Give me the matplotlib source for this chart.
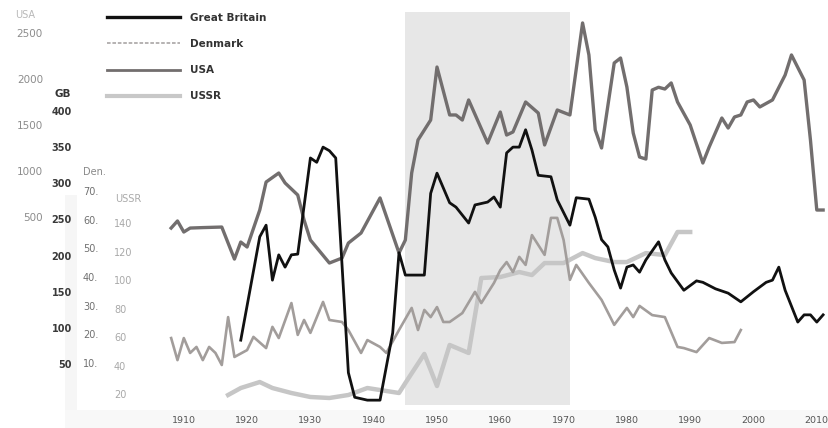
import matplotlib
matplotlib.use('Agg')
import matplotlib.pyplot as plt
from matplotlib.lines import Line2D
from matplotlib.patches import Rectangle

plt.rcParams['font.family'] = ['DejaVu Sans']

# ---------------- data ----------------
usa_years = [1908, 1909, 1910, 1911, 1913, 1916, 1918, 1919, 1920, 1922, 1923, 1925, 1926, 1928,
             1929, 1930, 1933, 1935, 1936, 1938, 1941, 1944, 1945, 1946, 1947, 1949, 1950, 1952,
             1953, 1954, 1955, 1958, 1960, 1961, 1962, 1964, 1966, 1967, 1969, 1971, 1973, 1974,
             1975, 1976, 1978, 1979, 1980, 1981, 1982, 1983, 1984, 1985, 1986, 1987, 1988, 1990,
             1992, 1993, 1995, 1996, 1997, 1998, 1999, 2000, 2001, 2003, 2005, 2006, 2008, 2009,
             2010, 2011]
usa_vals = [380, 457, 337, 380, 385, 391, 43, 228, 174, 576, 880, 978, 870, 739,
            467, 250, 0, 54, 217, 326, 707, 109, 250, 978, 1337, 1554, 2130, 1609,
            1609, 1554, 1772, 1304, 1641, 1391, 1424, 1750, 1630, 1283, 1663, 1609, 2609, 2261,
            1446, 1250, 2174, 2228, 1913, 1413, 1152, 1130, 1880, 1910, 1891, 1957, 1750, 1500,
            1087, 1261, 1576, 1467, 1587, 1609, 1750, 1772, 1696, 1772, 2043, 2261, 1989, 1337,
            576, 576]

gb_years = [1919, 1922, 1923, 1924, 1925, 1926, 1927, 1928, 1930, 1931, 1932, 1933, 1934, 1936,
            1937, 1939, 1941, 1943, 1944, 1945, 1948, 1949, 1950, 1952, 1953, 1955, 1956, 1958,
            1959, 1960, 1961, 1962, 1963, 1964, 1965, 1966, 1968, 1969, 1971, 1972, 1974, 1975,
            1976, 1977, 1978, 1979, 1980, 1981, 1982, 1983, 1985, 1986, 1987, 1989, 1991, 1992,
            1994, 1996, 1998, 2000, 2002, 2003, 2004, 2005, 2007, 2008, 2009, 2010, 2011]
gb_vals = [83, 226, 242, 166, 201, 184, 201, 202, 335, 329, 350, 345, 335, 38,
           4, 0, 0, 93, 204, 173, 173, 286, 314, 273, 267, 245, 270, 274,
           281, 267, 342, 350, 350, 374, 346, 311, 309, 277, 242, 280, 278, 253,
           222, 212, 180, 155, 184, 187, 177, 194, 219, 194, 176, 152, 165, 163,
           154, 148, 136, 150, 163, 166, 184, 152, 108, 118, 118, 108, 118]

den_years = [1908, 1909, 1910, 1911, 1912, 1913, 1914, 1915, 1916, 1917, 1918, 1920, 1921, 1923,
             1924, 1925, 1927, 1928, 1929, 1930, 1932, 1933, 1935, 1936, 1938, 1939, 1941, 1942,
             1944, 1946, 1947, 1948, 1949, 1950, 1951, 1952, 1954, 1956, 1957, 1959, 1960, 1961,
             1962, 1963, 1964, 1965, 1967, 1968, 1969, 1970, 1971, 1972, 1974, 1976, 1978, 1980,
             1981, 1982, 1984, 1986, 1988, 1989, 1991, 1993, 1995, 1997, 1998]
den_vals = [18.7, 11.0, 18.7, 13.5, 15.6, 11.0, 15.6, 13.5, 9.3, 26.0, 12.1, 14.5, 19.1, 15.2,
            22.6, 18.7, 30.9, 19.8, 25.0, 20.5, 31.3, 25.0, 24.3, 21.5, 13.5, 18.0, 15.6, 13.5,
            21.5, 29.2, 21.5, 28.5, 26.0, 29.5, 24.3, 24.3, 27.4, 34.8, 30.9, 37.9, 42.4, 45.2,
            41.7, 47.0, 44.2, 54.6, 47.7, 60.6, 60.6, 52.9, 39.0, 44.2, 37.9, 32.0, 23.3, 29.2,
            26.0, 29.9, 26.7, 26.0, 15.6, 15.2, 13.8, 18.7, 17.0, 17.3, 21.5]

ussr_years = [1917, 1919, 1922, 1924, 1927, 1930, 1933, 1936, 1939, 1941, 1944, 1945, 1948, 1950,
              1952, 1955, 1957, 1960, 1963, 1965, 1967, 1970, 1973, 1975, 1978, 1980, 1983, 1986,
              1988, 1990]
ussr_vals = [19.3, 24.2, 28.4, 24.2, 20.7, 17.9, 17.2, 19.3, 24.2, 22.8, 20.7, 27.7, 48.1, 25.6,
             54.4, 48.8, 101.4, 102.1, 105.6, 103.5, 111.9, 111.9, 118.9, 115.4, 112.6, 112.6, 118.9, 117.5,
             133.7, 133.7]

x_ticks = [1910, 1920, 1930, 1940, 1950, 1960, 1970, 1980, 1990, 2000, 2010]
shade_span = (1945, 1971)

usa_ticks = [500, 1000, 1500, 2000, 2500]
gb_ticks = [50, 100, 150, 200, 250, 300, 350, 400]
den_ticks = [10, 20, 30, 40, 50, 60, 70]
den_labels = ['10.', '20.', '30.', '40.', '50.', '60.', '70.']
ussr_ticks = [20, 40, 60, 80, 100, 120, 140]

legend_labels = ['Great Britain', 'Denmark', 'USA', 'USSR']

# ---------------- figure ----------------
W, H = 829, 428
fig = plt.figure(figsize=(W / 100, H / 100), dpi=100)

def fx(px):
    return px / W

def fy(py):
    return 1 - py / H

# faint background strips (behind everything)
fig.patches.append(Rectangle((fx(65), 0), fx(12), (428 - 195) / H, transform=fig.transFigure,
                             color='#f6f6f6', lw=0, zorder=-10))
fig.patches.append(Rectangle((fx(65), 0), fx(829 - 65), 18 / H, transform=fig.transFigure,
                             color='#f8f8f8', lw=0, zorder=-10))

L, R, T, B = 140, 829, 12, 405
rect = [fx(L), fy(B), (R - L) / W, (B - T) / H]

base = fig.add_axes(rect)
base.patch.set_visible(False)
base.set_xlim(1903.08, 2011.93)
base.set_ylim(0, 1)
base.axvspan(*shade_span, color='#e7e7e7', lw=0)
base.set_yticks([])
for s in base.spines.values():
    s.set_visible(False)
base.tick_params(axis='x', length=0, pad=8.0, labelsize=6.8, labelcolor='#555555')
base.set_xticks(x_ticks)


def make_axis(ylim, ticks, labels, offset_px, ha, color, weight, size=7):
    ax = fig.add_axes(rect, sharex=base)
    ax.patch.set_visible(False)
    ax.set_ylim(*ylim)
    ax.yaxis.tick_left()
    for s in ax.spines.values():
        s.set_color('none')
    ax.spines['left'].set_position(('outward', offset_px * 72 / 100))
    ax.tick_params(axis='y', length=0, pad=0)
    ax.tick_params(axis='x', bottom=False, labelbottom=False)
    ax.set_yticks(ticks, labels, ha=ha, color=color, fontweight=weight, fontsize=size)
    return ax


ax_ussr = make_axis((12.28, 288.1), ussr_ticks, [str(t) for t in ussr_ticks], 26, 'left', '#a8a8a8', 'normal')
ax_den = make_axis((-4.65, 132.4), den_ticks, den_labels, 57, 'left', '#707070', 'normal')
ax_usa = make_axis((-1543, 2728), usa_ticks, [str(t) for t in usa_ticks], 97, 'right', '#8c8c8c', 'normal', 7.5)
ax_gb = make_axis((-6.7, 536.9), gb_ticks, [str(t) for t in gb_ticks], 68, 'right', '#3a3a3a', 'bold')

c_gb, c_den, c_usa, c_ussr = '#111111', '#a29d9b', '#726e6e', '#c6c6c6'
ax_ussr.plot(ussr_years, ussr_vals, color=c_ussr, lw=3.2, solid_joinstyle='round', clip_on=False)
ax_den.plot(den_years, den_vals, color=c_den, lw=1.9, solid_joinstyle='round', clip_on=False)
ax_usa.plot(usa_years, usa_vals, color=c_usa, lw=2.4, solid_joinstyle='round', clip_on=False)
ax_gb.plot(gb_years, gb_vals, color=c_gb, lw=2.0, solid_joinstyle='round', clip_on=False)

# axis titles
fig.text(fx(15), fy(15), 'USA', fontsize=7, color='#b8b8b8', ha='left', va='center')
fig.text(fx(55), fy(94), 'GB', fontsize=7.5, color='#333333', fontweight='bold', ha='left', va='center')
fig.text(fx(83), fy(172), 'Den.', fontsize=7, color='#888888', ha='left', va='center')
fig.text(fx(115), fy(199), 'USSR', fontsize=7, color='#aaaaaa', ha='left', va='center')

# legend
handles = [
    Line2D([], [], color=c_gb, lw=2.4),
    Line2D([], [], color='#b0adac', lw=1.3, linestyle=(0, (2, 1))),
    Line2D([], [], color=c_usa, lw=2.0),
    Line2D([], [], color='#c8c8c8', lw=3.0),
]
fig.legend(handles, legend_labels, loc='upper left', bbox_to_anchor=(fx(107), fy(13)),
           bbox_transform=fig.transFigure, frameon=False, borderpad=0, borderaxespad=0,
           handlelength=7.0, handletextpad=0.95, labelspacing=1.55,
           prop={'weight': 'bold', 'size': 7.5}, labelcolor='#333333')

fig.savefig('out.png', dpi=100)
